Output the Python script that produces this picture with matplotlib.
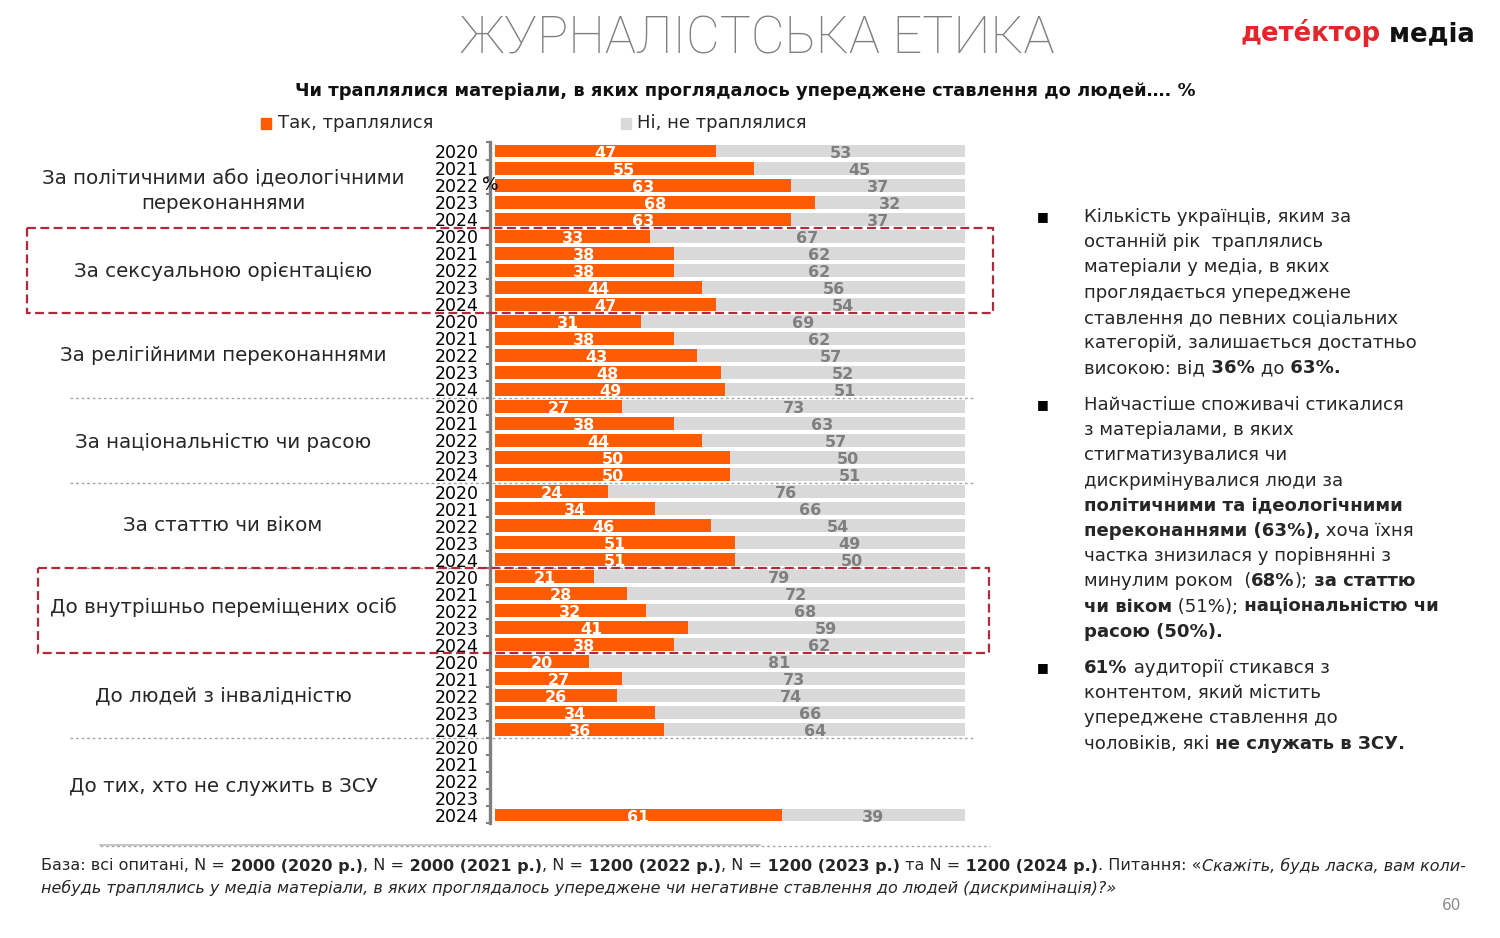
import matplotlib
matplotlib.use('Agg')
import matplotlib.pyplot as plt
import matplotlib.transforms as mtrans
from matplotlib.patches import Rectangle
import numpy as np

# ---------------- data ----------------
categories = [
    "За політичними або ідеологічними\nпереконаннями",
    "За сексуальною орієнтацією",
    "За релігійними переконаннями",
    "За національністю чи расою",
    "За статтю чи віком",
    "До внутрішньо переміщених осіб",
    "До людей з інвалідністю",
    "До тих, хто не служить в ЗСУ",
]
years = ["2020", "2021", "2022", "2023", "2024"]
yes_vals = [
    [47, 55, 63, 68, 63],
    [33, 38, 38, 44, 47],
    [31, 38, 43, 48, 49],
    [27, 38, 44, 50, 50],
    [24, 34, 46, 51, 51],
    [21, 28, 32, 41, 38],
    [20, 27, 26, 34, 36],
    [None, None, None, None, 61],
]
no_vals = [
    [53, 45, 37, 32, 37],
    [67, 62, 62, 56, 54],
    [69, 62, 57, 52, 51],
    [73, 63, 57, 50, 51],
    [76, 66, 54, 49, 50],
    [79, 72, 68, 59, 62],
    [81, 73, 74, 66, 64],
    [None, None, None, None, 39],
]
legend_labels = ["Так, траплялися", "Ні, не траплялися"]
highlighted = [1, 5]

ORANGE = "#fe5b02"
GRAY = "#d9d9d9"
LGRAY_TXT = "#7f7f7f"
DARK = "#262626"
BOXRED = "#b3283a"
LOGORED = "#e4262c"

W, H = 1500, 938
fig = plt.figure(figsize=(15, 9.38), dpi=100)
plt.rcParams['font.family'] = ['DejaVu Sans']

# main axes (bars)
ax = fig.add_axes([490 / W, 1 - 823.5 / H, 475 / W, 681 / H])
ax.set_zorder(2)
ax.patch.set_alpha(0)
n_rows = len(categories) * len(years)
ax.set_ylim(n_rows - 0.5, -0.5)
ax.set_xlim(-1.1, 100)

ylabels = []
for g in range(len(categories)):
    for k in range(len(years)):
        r = g * len(years) + k
        ylabels.append(years[k])
        y = yes_vals[g][k]
        n = no_vals[g][k]
        if y is None:
            continue
        ax.barh(r, y, left=0, height=0.76, color=ORANGE, zorder=2)
        ax.barh(r, n, left=y, height=0.76, color=GRAY, zorder=2)
        ax.text(y / 2, r + 0.12, str(y), ha='center', va='center', color='white',
                fontweight='bold', fontsize=11.5, zorder=3)
        ax.text(y + n / 2, r + 0.12, str(n), ha='center', va='center', color=LGRAY_TXT,
                fontweight='bold', fontsize=11.5, zorder=3)

for s in ['top', 'right', 'bottom']:
    ax.spines[s].set_visible(False)
ax.spines['left'].set_color('#808080')
ax.spines['left'].set_linewidth(2.4)
ax.set_xticks([])
ax.set_yticks(range(n_rows))
ax.set_yticklabels(ylabels)
ax.tick_params(axis='y', which='major', length=0, pad=8, labelsize=12.5, labelcolor='black')
ax.set_yticks(np.arange(-0.5, n_rows, 1), minor=True)
ax.tick_params(axis='y', which='minor', length=3, width=1.5, color='#808080')
ax.text(-1.1, 2, '%', ha='center', va='center', fontsize=12.5, color='black', zorder=4)

# overlay in pixel coordinates
ov = fig.add_axes([0, 0, 1, 1])
ov.set_xlim(0, W)
ov.set_ylim(H, 0)
ov.axis('off')
ov.set_zorder(1)

trans = mtrans.blended_transform_factory(ov.transData, ax.transData)

# category labels
label_shift = [0.35, 0.05, 0.0, 0.1, 0.0, -0.2, 0.0, 0.3]
for g, c in enumerate(categories):
    ax.text(223, g * len(years) + 2 + label_shift[g], c, transform=trans, ha='center',
            va='center', fontsize=14.3, color=DARK, linespacing=1.35, clip_on=False)

# separators
for b in [14.5, 19.5, 24.5, 34.5]:
    ax.plot([70, 975], [b, b], transform=trans, ls=(0, (2, 2)), color='#a6a6a6',
            lw=1, clip_on=False, zorder=0.5)
# highlight boxes
for g, (x0, x1) in zip(highlighted, [(27, 993), (38, 989)]):
    ax.add_patch(Rectangle((x0, g * 5 - 0.5), x1 - x0, 5, transform=trans, fill=False,
                           ls=(0, (4, 2)), ec=BOXRED, lw=1.6, clip_on=False, zorder=5))

ov.plot([100, 760], [845, 845], color='#bfbfbf', lw=1.2)
ov.plot([100, 990], [846, 846], ls=(0, (2, 2)), color='#a6a6a6', lw=1)


def rich(x, y, segs, size, color=DARK, family=None):
    prev = None
    for seg in segs:
        text, st = seg[0], seg[1]
        c = seg[2] if len(seg) > 2 else color
        kw = dict(fontsize=size, color=c,
                  fontweight='bold' if 'b' in st else 'normal',
                  style='italic' if 'i' in st else 'normal')
        if family:
            kw['family'] = family
        if prev is None:
            prev = ov.text(x, y, text, ha='left', va='center', **kw)
        else:
            prev = ov.annotate(text, xy=(1, 0), xycoords=prev, ha='left', va='bottom', **kw)
    return prev


# title & subtitle
ov.text(757, 40, 'ЖУРНАЛІСТСЬКА ЕТИКА', ha='center', va='center', fontsize=37.5,
        color=LGRAY_TXT, family='Roboto', fontweight='light')
ov.text(745, 91, 'Чи траплялися матеріали, в яких проглядалось упереджене ставлення до людей…. %',
        ha='center', va='center', fontsize=12.9, fontweight='bold', color='#111111')

# logo
rich(1240, 33, [("детéктор", 'b', LOGORED), (" медіа", 'b', '#111111')], 18.6)

# legend
ov.add_patch(Rectangle((261, 118), 10, 11, color=ORANGE))
ov.text(278, 123.5, legend_labels[0], va='center', ha='left', fontsize=13, color=DARK)
ov.add_patch(Rectangle((621, 118), 10, 11, color=GRAY))
ov.text(637, 123.5, legend_labels[1], va='center', ha='left', fontsize=13, color=DARK)

# bullet text
bullets = [
    (217, [
        [("Кількість українців, яким за", 'n')],
        [("останній рік  траплялись", 'n')],
        [("матеріали у медіа, в яких", 'n')],
        [("проглядається упереджене", 'n')],
        [("ставлення до певних соціальних", 'n')],
        [("категорій, залишається достатньо", 'n')],
        [("високою: від", 'n'), (" 36%", 'b'), (" до", 'n'), (" 63%.", 'b')],
    ]),
    (405, [
        [("Найчастіше споживачі стикалися", 'n')],
        [("з матеріалами, в яких", 'n')],
        [("стигматизувалися чи", 'n')],
        [("дискримінувалися люди за", 'n')],
        [("політичними та ідеологічними", 'b')],
        [("переконаннями (63%),", 'b'), (" хоча їхня", 'n')],
        [("частка знизилася у порівнянні з", 'n')],
        [("минулим роком  (", 'n'), ("68%", 'b'), (");", 'n'), (" за статтю", 'b')],
        [("чи віком", 'b'), (" (51%);", 'n'), (" національністю чи", 'b')],
        [("расою (50%).", 'b')],
    ]),
    (668, [
        [("61%", 'b'), (" аудиторії стикався з", 'n')],
        [("контентом, який містить", 'n')],
        [("упереджене ставлення до", 'n')],
        [("чоловіків, які", 'n'), (" не служать в ЗСУ.", 'b')],
    ]),
]
for y0, lines in bullets:
    ov.text(1043, y0, '■', ha='center', va='center', fontsize=9, color='black')
    for i, segs in enumerate(lines):
        rich(1084, y0 + i * 25.2, segs, 13.1)

# footnote
rich(41, 866, [
    ("База: всі опитані, N =", 'n'), (" 2000 (2020 р.)", 'b'), (", N =", 'n'), (" 2000 (2021 р.)", 'b'),
    (", N =", 'n'), (" 1200 (2022 р.)", 'b'), (", N =", 'n'), (" 1200 (2023 р.)", 'b'),
    (" та N =", 'n'), (" 1200 (2024 р.)", 'b'), (". Питання: «", 'n'),
    ("Скажіть, будь ласка, вам коли-", 'i')], 11.5)
rich(41, 888, [("небудь траплялись у медіа матеріали, в яких проглядалось упереджене чи негативне "
                "ставлення до людей (дискримінація)?»", 'i')], 11.5)

ov.text(1452, 905, '60', ha='center', va='center', fontsize=11, color='#8c8c8c')

fig.savefig('out.png', dpi=100)
